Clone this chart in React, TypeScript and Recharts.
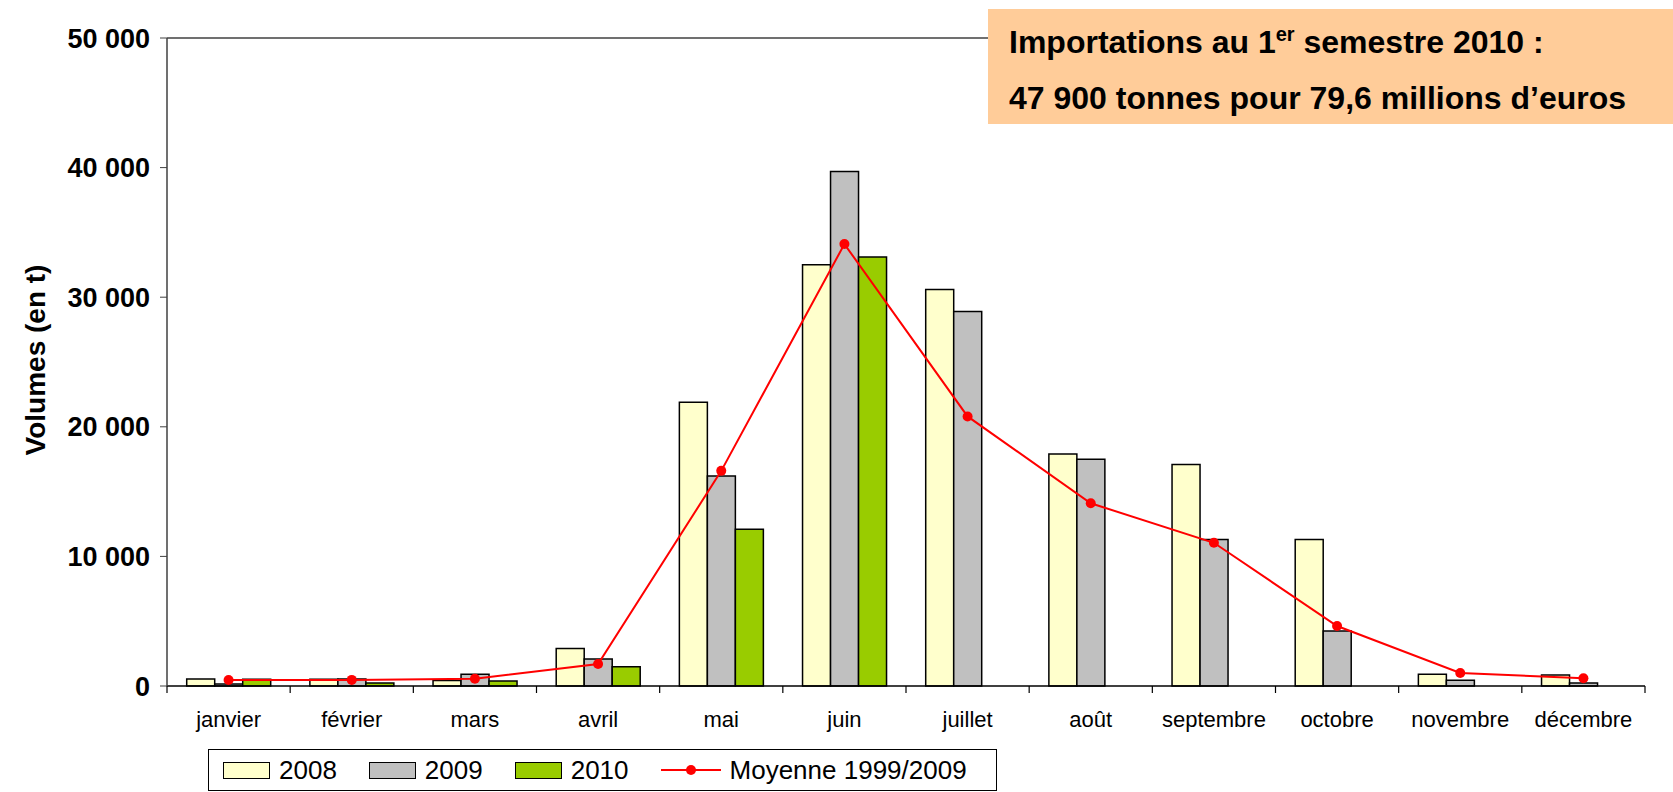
import { ComposedChart, Bar, Line, XAxis, YAxis, ReferenceLine } from 'recharts';

// volumes mensuels (tonnes)
const months = ['janvier', 'février', 'mars', 'avril', 'mai', 'juin', 'juillet', 'août', 'septembre', 'octobre', 'novembre', 'décembre'];
const v2008 = [540, 520, 420, 2900, 21900, 32500, 30600, 17900, 17100, 11300, 900, 850];
const v2009 = [150, 540, 900, 2080, 16200, 39700, 28900, 17500, 11300, 4250, 450, 230];
const v2010 = [520, 230, 380, 1480, 12100, 33100, null, null, null, null, null, null];
const moyenne = [460, 470, 560, 1700, 16600, 34100, 20800, 14100, 11050, 4630, 1000, 600];
const yTicks = [0, 10000, 20000, 30000, 40000, 50000];

const series = [
  { key: 'y2008', name: '2008', fill: '#FFFFCC' },
  { key: 'y2009', name: '2009', fill: '#C0C0C0' },
  { key: 'y2010', name: '2010', fill: '#99CC00' },
];

const data = months.map((m, i) => ({
  month: m,
  y2008: v2008[i],
  y2009: v2009[i],
  y2010: v2010[i],
  moyenne: moyenne[i],
}));

const FONT = '"Liberation Sans", Arial, sans-serif';
const LABEL_GAP = 25;

const fmt = (v: number) => String(v).replace(/\B(?=(\d{3})+(?!\d))/g, ' ');

// étiquette de mois + graduation aux bornes de la catégorie (style Excel)
function MonthTick(props: any) {
  const { x, y, payload, index } = props;
  const half = payload.offset || 0;
  const axisY = y - LABEL_GAP;
  const last = index === months.length - 1;
  return (
    <g>
      <line x1={x - half} y1={axisY} x2={x - half} y2={axisY + 7} stroke="#000" strokeWidth={1.2} />
      {last && <line x1={x + half} y1={axisY} x2={x + half} y2={axisY + 7} stroke="#000" strokeWidth={1.2} />}
      <text x={x} y={y + 16} textAnchor="middle" fontFamily={FONT} fontSize={22} fill="#000">
        {payload.value}
      </text>
    </g>
  );
}

function YTitle() {
  return (
    <text
      x={35}
      y={360}
      transform="rotate(-90 35 360)"
      textAnchor="middle"
      dominantBaseline="central"
      fontFamily={FONT}
      fontWeight="bold"
      fontSize={28}
      fill="#000"
    >
      Volumes (en t)
    </text>
  );
}

function LegendBox() {
  return (
    <div
      style={{
        position: 'absolute',
        left: 208,
        top: 749,
        width: 789,
        height: 42,
        border: '1px solid #000',
        boxSizing: 'border-box',
        display: 'flex',
        alignItems: 'center',
        paddingLeft: 14,
        gap: 32,
        fontFamily: FONT,
        fontSize: 26,
        background: '#fff',
      }}
    >
      {series.map((s) => (
        <div key={s.key} style={{ display: 'flex', alignItems: 'center', gap: 9 }}>
          <span style={{ width: 47, height: 17, background: s.fill, border: '1.5px solid #000', boxSizing: 'border-box' }} />
          <span>{s.name}</span>
        </div>
      ))}
      <div style={{ display: 'flex', alignItems: 'center', gap: 9 }}>
        <svg width={60} height={14}>
          <line x1={0} y1={7} x2={60} y2={7} stroke="#FF0000" strokeWidth={2} />
          <circle cx={30} cy={7} r={5} fill="#FF0000" />
        </svg>
        <span>Moyenne 1999/2009</span>
      </div>
    </div>
  );
}

function Annotation() {
  return (
    <svg style={{ position: 'absolute', left: 988, top: 9 }} width={685} height={115}>
      <rect x={0} y={0} width={685} height={115} fill="#FFCC99" />
      <text x={21} y={44} fontFamily={FONT} fontWeight="bold" fontSize={32} fill="#000">
        Importations au 1
        <tspan fontSize={20} dy={-12}>er</tspan>
        <tspan dy={12}> semestre 2010 :</tspan>
      </text>
      <text x={21} y={100} fontFamily={FONT} fontWeight="bold" fontSize={32} fill="#000">
        47 900 tonnes pour 79,6 millions d’euros
      </text>
    </svg>
  );
}

export default function App() {
  return (
    <div style={{ position: 'relative', width: 1673, height: 792, overflow: 'hidden', background: '#fff' }}>
      <style>{'body{margin:0}'}</style>
      <ComposedChart
        width={1673}
        height={792}
        data={data}
        margin={{ top: 38, right: 28, left: 0, bottom: 0 }}
        barCategoryGap="16%"
        barGap={0}
      >
        <XAxis
          dataKey="month"
          height={106}
          interval={0}
          tickLine={false}
          tickSize={0}
          tickMargin={LABEL_GAP}
          axisLine={{ stroke: '#000', strokeWidth: 1.5 }}
          tick={<MonthTick />}
        />
        <YAxis
          width={167}
          domain={[0, 50000]}
          ticks={yTicks}
          tickFormatter={fmt}
          tickSize={7}
          tickMargin={10}
          tickLine={{ stroke: '#404040' }}
          axisLine={{ stroke: '#404040', strokeWidth: 1.5 }}
          tick={{ fill: '#000', fontSize: 27, fontWeight: 'bold', fontFamily: FONT }}
          label={{ content: () => <YTitle /> }}
        />
        <YAxis
          yAxisId="right"
          orientation="right"
          width={0}
          domain={[0, 50000]}
          tick={false}
          tickLine={false}
          axisLine={{ stroke: '#404040', strokeWidth: 1.5 }}
        />
        <ReferenceLine y={50000} stroke="#404040" strokeWidth={1.5} />
        {series.map((s) => (
          <Bar
            key={s.key}
            dataKey={s.key}
            name={s.name}
            fill={s.fill}
            stroke="#000"
            strokeWidth={1.5}
            isAnimationActive={false}
          />
        ))}
        <Line
          type="linear"
          dataKey="moyenne"
          name="Moyenne 1999/2009"
          stroke="#FF0000"
          strokeWidth={2}
          dot={{ r: 5, fill: '#FF0000', stroke: '#FF0000', strokeWidth: 0 }}
          isAnimationActive={false}
        />
      </ComposedChart>
      <Annotation />
      <LegendBox />
    </div>
  );
}
